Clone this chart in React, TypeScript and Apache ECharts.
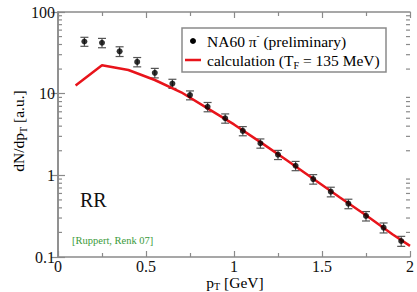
import React, { useEffect, useRef } from "react";
import * as echarts from "echarts";

const dataX = [0.15, 0.25, 0.35, 0.45, 0.55, 0.65, 0.75, 0.85, 0.95, 1.05, 1.15, 1.25, 1.35, 1.45, 1.55, 1.65, 1.75, 1.85, 1.95];
const dataY = [43.5, 42, 33, 24.5, 18, 13.3, 9.6, 6.9, 5.0, 3.5, 2.47, 1.79, 1.31, 0.9, 0.63, 0.45, 0.318, 0.229, 0.157];
const dataErr = [5.5, 5.5, 4.5, 3.2, 2.4, 1.7, 1.2, 0.9, 0.65, 0.45, 0.32, 0.23, 0.17, 0.12, 0.085, 0.06, 0.042, 0.032, 0.022];

const calcX = [0.1, 0.25, 0.4, 0.55, 0.7, 0.85, 1.0, 1.15, 1.3, 1.45, 1.6, 1.75, 1.9, 2.0];
const calcY = [12.6, 22.3, 19.5, 14.7, 10.4, 6.6, 4.2, 2.55, 1.53, 0.91, 0.54, 0.325, 0.19, 0.137];

const yTickLabels = ["0.1", "1", "10", "100"];
const xTickLabels = ["0", "0.5", "1", "1.5", "2"];

const FONT = "Liberation Serif";
const FRAME = "#8a8a8a";

export default function App() {
  const ref = useRef<HTMLDivElement>(null);
  useEffect(() => {
    const chart = echarts.init(ref.current!, null, { renderer: "svg" });
    const minorVals: number[] = [];
    for (const d of [0.1, 1, 10]) for (let k = 2; k <= 9; k++) minorVals.push(+(d * k).toPrecision(3));

    const gridL = 58, gridT = 12, gridR = 7, gridB = 35;
    const axisCommon = {
      min: 0,
      max: 2,
      interval: 0.5,
      axisLine: { show: true, lineStyle: { color: FRAME, width: 1.5 } },
      axisTick: { show: true, inside: true, length: 6, lineStyle: { color: FRAME, width: 1.2 } },
      minorTick: { show: true, splitNumber: 2, length: 4, lineStyle: { color: FRAME, width: 1.2 } },
      splitLine: { show: false },
    };
    const yCommon = {
      type: "log" as const,
      logBase: 10,
      min: 0.1,
      max: 100,
      axisLine: { show: true, lineStyle: { color: FRAME, width: 1.5 } },
      axisTick: { show: true, inside: true, length: 7, lineStyle: { color: FRAME, width: 1.2 } },
      splitLine: { show: false },
    };
    const rich = {
      a: { fontFamily: FONT, fontSize: 15.5, color: "#111", lineHeight: 20, verticalAlign: "middle" },
      s: { fontFamily: FONT, fontSize: 10, color: "#111", lineHeight: 10, verticalAlign: "bottom" },
      u: { fontFamily: FONT, fontSize: 9, color: "#111", lineHeight: 9, verticalAlign: "top" },
    };
    const richX = {
      a: { fontFamily: FONT, fontSize: 15.5, color: "#111", lineHeight: 18, verticalAlign: "middle" },
      s: { fontFamily: FONT, fontSize: 10, color: "#111", lineHeight: 10, verticalAlign: "bottom" },
    };

    chart.setOption({
      animation: false,
      grid: { left: gridL, top: gridT, right: gridR, bottom: gridB },
      xAxis: [
        {
          type: "value",
          position: "bottom",
          ...axisCommon,
          axisLabel: {
            color: "#111",
            fontFamily: FONT,
            fontSize: 16,
            lineHeight: 14,
            margin: 2,
            formatter: (v: number) => xTickLabels[Math.round(v / 0.5)] ?? String(v),
          },
        },
        {
          type: "value",
          position: "top",
          ...axisCommon,
          axisLabel: { show: false },
        },
      ],
      yAxis: [
        {
          ...yCommon,
          position: "left",
          axisLabel: {
            color: "#111",
            fontFamily: FONT,
            fontSize: 16,
            margin: 3,
            formatter: (v: number) => yTickLabels[Math.round(Math.log10(v)) + 1] ?? String(v),
          },
        },
        {
          ...yCommon,
          position: "right",
          axisLabel: { show: false },
        },
      ],
      series: [
        {
          type: "custom",
          xAxisIndex: 0,
          yAxisIndex: 0,
          silent: true,
          data: minorVals.map((v) => [0, v]),
          renderItem: (params: any, api: any) => {
            const cs = params.coordSys;
            const y = api.coord([0, api.value(1)])[1];
            const st = { stroke: FRAME, lineWidth: 1.2 };
            return {
              type: "group",
              children: [
                { type: "line", shape: { x1: cs.x, y1: y, x2: cs.x + 4, y2: y }, style: st },
                { type: "line", shape: { x1: cs.x + cs.width - 4, y1: y, x2: cs.x + cs.width, y2: y }, style: st },
              ],
            };
          },
        },
        {
          type: "custom",
          xAxisIndex: 0,
          yAxisIndex: 0,
          silent: true,
          data: dataX.map((x, i) => [x, dataY[i] - dataErr[i], dataY[i] + dataErr[i]]),
          renderItem: (params: any, api: any) => {
            const x = api.value(0);
            const lo = api.coord([x, api.value(1)]);
            const hi = api.coord([x, api.value(2)]);
            const w = 4;
            const st = { stroke: "#555", lineWidth: 1.2 };
            return {
              type: "group",
              children: [
                { type: "line", shape: { x1: lo[0], y1: lo[1], x2: hi[0], y2: hi[1] }, style: st },
                { type: "line", shape: { x1: lo[0] - w, y1: lo[1], x2: lo[0] + w, y2: lo[1] }, style: st },
                { type: "line", shape: { x1: hi[0] - w, y1: hi[1], x2: hi[0] + w, y2: hi[1] }, style: st },
              ],
            };
          },
        },
        {
          type: "line",
          data: calcX.map((x, i) => [x, calcY[i]]),
          showSymbol: false,
          symbol: "none",
          lineStyle: { color: "#e8141b", width: 2.5 },
          z: 3,
        },
        {
          type: "scatter",
          data: dataX.map((x, i) => [x, dataY[i]]),
          symbol: "circle",
          symbolSize: 6,
          itemStyle: { color: "#000" },
          z: 4,
        },
      ],
      graphic: [
        {
          type: "rect",
          shape: { x: 182, y: 28, width: 204, height: 44 },
          style: { fill: "#fff", stroke: FRAME, lineWidth: 1.5 },
          z: 10,
        },
        { type: "circle", shape: { cx: 193, cy: 41, r: 3 }, style: { fill: "#000" }, z: 11 },
        {
          type: "line",
          shape: { x1: 185, y1: 60, x2: 201, y2: 60 },
          style: { stroke: "#e8141b", lineWidth: 2.5 },
          z: 11,
        },
        {
          type: "text",
          x: 207,
          y: 41,
          z: 11,
          style: {
            text: "{a|NA60 π}{u|-}{a| (preliminary)}",
            verticalAlign: "middle",
            align: "left",
            rich,
          },
        },
        {
          type: "text",
          x: 207,
          y: 60,
          z: 11,
          style: {
            text: "{a|calculation (T}{s|F}{a| = 135 MeV)}",
            verticalAlign: "middle",
            align: "left",
            rich,
          },
        },
        {
          type: "text",
          x: 18,
          y: 131,
          rotation: Math.PI / 2,
          style: {
            text: "{a|dN/dp}{s|T}{a| [a.u.]}",
            align: "center",
            verticalAlign: "middle",
            rich,
          },
        },
        {
          type: "text",
          x: 235,
          y: 282,
          style: {
            text: "{a|p}{s|T}{a| [GeV]}",
            align: "center",
            verticalAlign: "middle",
            rich: richX,
          },
        },
        {
          type: "text",
          x: 80,
          y: 200,
          style: { text: "RR", fontFamily: FONT, fontSize: 20, fill: "#111", verticalAlign: "middle", align: "left" },
        },
        {
          type: "text",
          x: 72,
          y: 240,
          style: {
            text: "[Ruppert, Renk 07]",
            fontFamily: FONT,
            fontSize: 10.5,
            fill: "#3a9a3a",
            verticalAlign: "middle",
            align: "left",
          },
        },
      ],
    });
    return () => chart.dispose();
  }, []);
  return <div ref={ref} style={{ position: "fixed", left: 0, top: 0, width: 417, height: 292, background: "#fff" }} />;
}
